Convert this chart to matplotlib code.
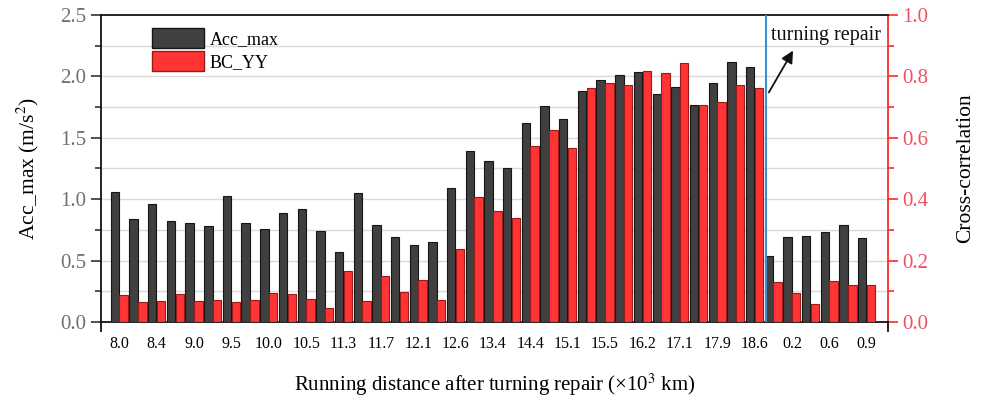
import numpy as np
import matplotlib
matplotlib.use("Agg")
import matplotlib.pyplot as plt
from matplotlib.ticker import MultipleLocator, FixedLocator
from matplotlib.patches import Patch

plt.rcParams['font.family'] = ['Liberation Serif', 'DejaVu Serif']
plt.rcParams['mathtext.fontset'] = 'stix'

# Dados
rotulos_x = ['8.0', '8.4', '9.0', '9.5', '10.0', '10.5', '11.3', '11.7', '12.1', '12.6',
             '13.4', '14.4', '15.1', '15.5', '16.2', '17.1', '17.9', '18.6', '0.2', '0.6', '0.9']

acc_max = [1.06, 0.84, 0.96, 0.82, 0.81, 0.78, 1.03, 0.81, 0.76, 0.89,
           0.92, 0.74, 0.57, 1.05, 0.79, 0.69, 0.63, 0.65, 1.09, 1.39,
           1.31, 1.25, 1.62, 1.76, 1.65, 1.88, 1.97, 2.01, 2.04, 1.86,
           1.91, 1.77, 1.95, 2.12, 2.08, 0.54, 0.69, 0.70, 0.73, 0.79, 0.68]

bc_yy = [0.089, 0.065, 0.068, 0.090, 0.068, 0.071, 0.065, 0.073, 0.095, 0.092,
         0.074, 0.047, 0.167, 0.067, 0.150, 0.098, 0.138, 0.073, 0.237, 0.407,
         0.362, 0.340, 0.573, 0.625, 0.566, 0.763, 0.779, 0.773, 0.818, 0.810,
         0.845, 0.707, 0.717, 0.772, 0.763, 0.131, 0.095, 0.060, 0.133, 0.122, 0.122]


def plotar():
    n = len(acc_max)
    x = np.arange(n)
    largura = 0.45
    desloc = 0.235

    fig = plt.figure(figsize=(9.82, 3.96), dpi=100)
    ax = fig.add_axes([0.103, 0.187, 0.801, 0.775])
    ax2 = ax.twinx()

    ax.set_zorder(2)
    ax.patch.set_visible(False)
    ax2.set_zorder(1)

    # grade horizontal
    for v in np.arange(0.25, 2.5, 0.25):
        ax2.axhline(v / 2.5, color='#dadada', lw=1.0, zorder=0)

    ax.bar(x - desloc, acc_max, largura, color='#404040', edgecolor='#151515', lw=0.8, zorder=3)
    ax.bar(x + desloc, np.array(bc_yy) * 2.5, largura, color='#ff3535', edgecolor='#9a1a1a',
           lw=0.8, zorder=3)

    ax.set_xlim(-0.97, 41.13)
    ax.set_ylim(0, 2.5)
    ax2.set_ylim(0, 1.0)

    ax.xaxis.set_major_locator(FixedLocator(x[::2]))
    ax.set_xticklabels(rotulos_x, fontsize=11.5)
    ax.tick_params(axis='x', length=0, pad=10)

    ax.yaxis.set_major_locator(MultipleLocator(0.5))
    ax.yaxis.set_minor_locator(MultipleLocator(0.25))
    ax.yaxis.set_major_formatter(matplotlib.ticker.FormatStrFormatter('%.1f'))
    ax.tick_params(axis='y', which='major', length=7, width=1.2, color='#333333',
                   labelcolor='#707070', labelsize=15)
    ax.tick_params(axis='y', which='minor', length=4, width=1.2, color='#333333')

    ax2.yaxis.set_major_locator(MultipleLocator(0.2))
    ax2.yaxis.set_minor_locator(MultipleLocator(0.1))
    ax2.yaxis.set_major_formatter(matplotlib.ticker.FormatStrFormatter('%.1f'))
    ax2.tick_params(axis='y', which='major', length=7, width=1.2, color='#ff2a2a',
                    labelcolor='#f05060', labelsize=15)
    ax2.tick_params(axis='y', which='minor', length=4, width=1.2, color='#ff2a2a')

    for s in ['left', 'bottom', 'top']:
        ax.spines[s].set_linewidth(1.3)
        ax.spines[s].set_color('#111111')
    ax.spines['right'].set_visible(False)
    ax2.spines['right'].set_color('#ff2a2a')
    ax2.spines['right'].set_linewidth(1.3)
    for s in ['left', 'bottom', 'top']:
        ax2.spines[s].set_visible(False)

    # pequenas marcas nas pontas do eixo x
    ax.plot([0, 0], [0, -0.03], transform=ax.transAxes, color='#111111', lw=1.3, clip_on=False)
    ax.plot([1, 1], [0, -0.03], transform=ax.transAxes, color='#111111', lw=1.3, clip_on=False)

    ax.set_ylabel('Acc_max (m/s$^2$)', fontsize=15.5, labelpad=14)
    ax2.set_ylabel('Cross-correlation', fontsize=15.5, labelpad=20)
    ax.set_xlabel('Running distance after turning repair (×10$^3$ km)', fontsize=15, labelpad=14)

    # linha da reperfilagem
    ax.axvline(34.6, color='#3a8fd0', lw=1.5, zorder=4)
    ax.annotate('turning repair', xy=(36.14, 2.23), xytext=(34.9, 2.33),
                fontsize=14.5, color='#111111', va='center', ha='left', zorder=5)
    ax.annotate('', xy=(36.14, 2.23), xytext=(34.69, 1.85),
                arrowprops=dict(arrowstyle='-|>', color='#111111', lw=1.3, mutation_scale=18),
                zorder=5)

    legenda = [Patch(facecolor='#404040', edgecolor='#151515', label='Acc_max'),
               Patch(facecolor='#ff3535', edgecolor='#9a1a1a', label='BC_YY')]
    ax.legend(handles=legenda, loc='upper left', bbox_to_anchor=(0.055, 0.98), frameon=False,
              fontsize=13, handlelength=2.9, handleheight=1.3, handletextpad=0.3,
              labelspacing=0.15, borderaxespad=0)

    fig.savefig('out.png', dpi=100)


def main():
    plotar()


if __name__ == "__main__":
    main()
